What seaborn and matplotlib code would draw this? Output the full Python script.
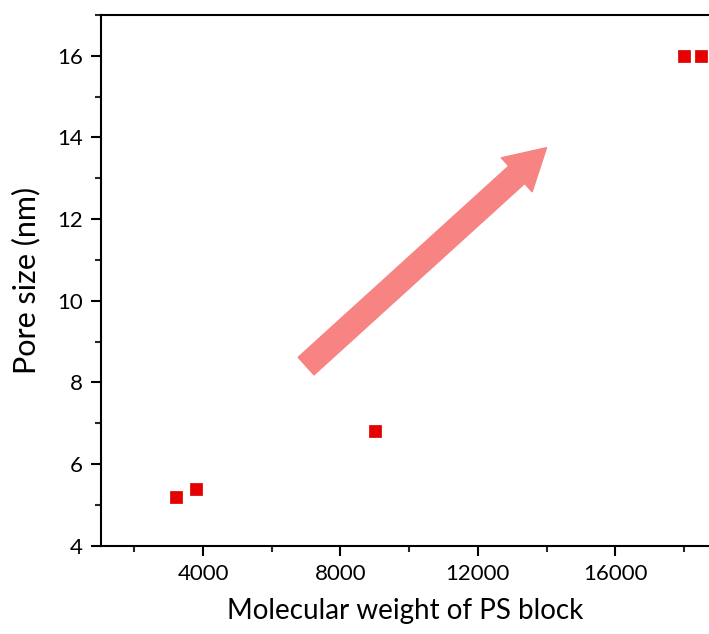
import matplotlib
matplotlib.use("Agg")
import matplotlib.pyplot as plt
import seaborn as sns
import pandas as pd
from matplotlib.ticker import MultipleLocator

molecular_weight = [3200, 3800, 9000, 18000, 18500]
pore_size = [5.2, 5.4, 6.8, 16.0, 16.0]
x_ticks = [4000, 8000, 12000, 16000]
y_ticks = [4, 6, 8, 10, 12, 14, 16]

sns.set_style("ticks")
plt.rcParams['font.family'] = ['Lato', 'DejaVu Sans']
plt.rcParams['text.color'] = 'black'
plt.rcParams['axes.labelcolor'] = 'black'

df = pd.DataFrame({"mw": molecular_weight, "pore": pore_size})

fig = plt.figure(figsize=(7.09, 6.34), dpi=100)
ax = fig.add_axes([0.142, 0.1393, 0.858, 0.837])

sns.scatterplot(data=df, x="mw", y="pore", marker="s", s=80, color="#e60000",
                edgecolor="#d00000", linewidth=0.5, ax=ax, zorder=3, clip_on=False)

ax.annotate("", xy=(14000, 13.75), xytext=(7000, 8.4),
            arrowprops=dict(arrowstyle="simple,head_length=1.45,head_width=1.65,tail_width=0.85",
                            color="#f78383", shrinkA=0, shrinkB=0, mutation_scale=20))

ax.set_xlim(1020, 18730)
ax.set_ylim(4, 17)
ax.set_xticks(x_ticks)
ax.set_yticks(y_ticks)
ax.xaxis.set_minor_locator(MultipleLocator(2000))
ax.yaxis.set_minor_locator(MultipleLocator(1))

for sp in ["left", "bottom", "top"]:
    ax.spines[sp].set_linewidth(1.5)
    ax.spines[sp].set_color("black")
ax.spines["right"].set_visible(False)

ax.tick_params(which="major", direction="out", length=7, width=1.5, labelsize=16, colors="black", pad=6)
ax.tick_params(which="minor", direction="out", length=4, width=1.5)
ax.tick_params(axis="x", top=False, which="both")

ax.set_xlabel("Molecular weight of PS block", fontsize=20, labelpad=10, color="black")
ax.set_ylabel("Pore size (nm)", fontsize=22, labelpad=12, color="black")

fig.savefig("out.png", dpi=100)
